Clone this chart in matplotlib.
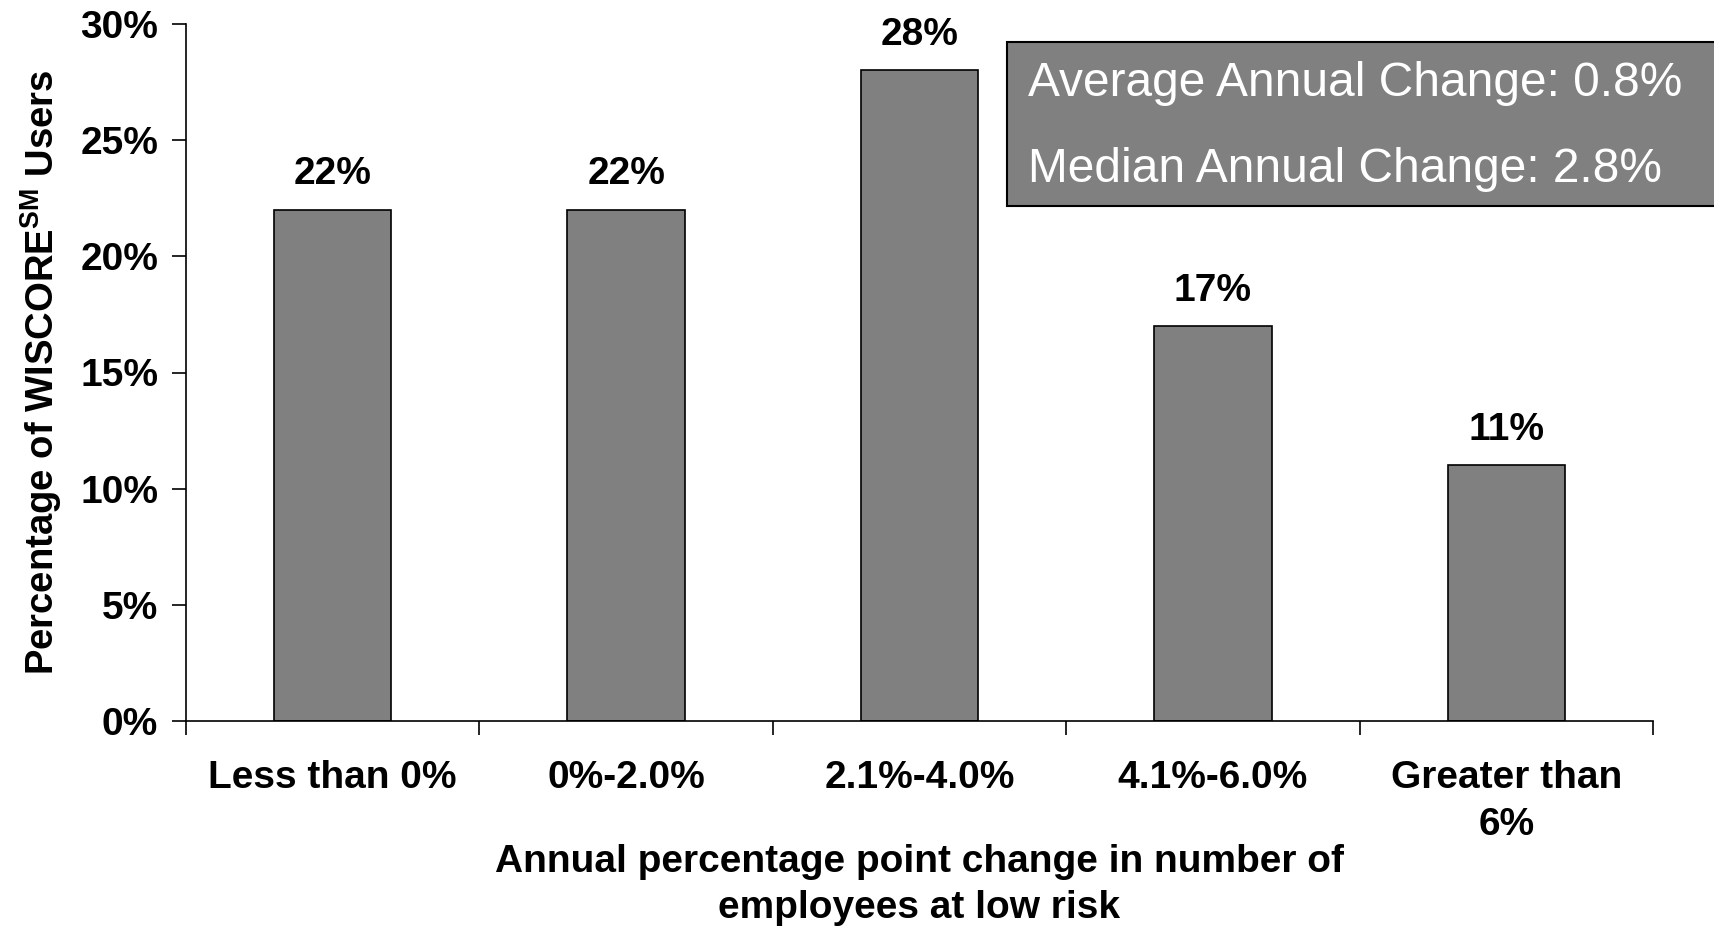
import matplotlib
matplotlib.use('Agg')
import matplotlib.pyplot as plt
import numpy as np

plt.rcParams.update({
    'font.family': ['Liberation Sans', 'DejaVu Sans'],
    'font.size': 28,
    'mathtext.fontset': 'custom',
    'mathtext.rm': 'Liberation Sans:bold',
    'mathtext.bf': 'Liberation Sans:bold',
})

categories = ['Less than 0%', '0%-2.0%', '2.1%-4.0%', '4.1%-6.0%', 'Greater than\n6%']
values = [22, 22, 28, 17, 11]
y_ticks = [0, 5, 10, 15, 20, 25, 30]
info_lines = ['Average Annual Change: 0.8%', 'Median Annual Change: 2.8%']

fig = plt.figure(figsize=(17.15, 9.27), dpi=100)
ax = fig.add_axes([186 / 1715, 1 - 721 / 927, (1653 - 186) / 1715, (721 - 24) / 927])

x = np.arange(len(categories))
ax.bar(x, values, width=0.40, color='#808080', edgecolor='black', linewidth=1.2)

for xi, v in zip(x, values):
    ax.text(xi, v + 0.75, f'{v}%', ha='center', va='bottom', fontsize=28, fontweight='bold')

ax.set_xlim(-0.5, len(categories) - 0.5)
ax.set_ylim(0, 30)
ax.set_yticks(y_ticks)
ax.set_yticklabels([f'{t}%' for t in y_ticks], fontsize=28, fontweight='bold')
ax.tick_params(axis='y', direction='out', length=10, width=1.2, pad=10)

# category labels centred, ticks at the boundaries
ax.set_xticks(x)
ax.set_xticklabels(categories, fontsize=28, fontweight='bold', linespacing=1.4)
ax.tick_params(axis='x', which='major', length=0, pad=28)
ax.set_xticks(np.arange(len(categories) + 1) - 0.5, minor=True)
ax.tick_params(axis='x', which='minor', direction='out', length=10, width=1.2)

for side in ['top', 'right']:
    ax.spines[side].set_visible(False)
ax.spines['left'].set_linewidth(1.2)
ax.spines['bottom'].set_linewidth(1.2)

ax.set_ylabel(r'Percentage of WISCORE$^{\mathbf{SM}}$ Users', fontsize=27.5, fontweight='bold', labelpad=12)
ax.set_xlabel('Annual percentage point change in number of\nemployees at low risk',
              fontsize=28, fontweight='bold', linespacing=1.38, labelpad=0.5)

# info box (runs past the right edge as in the original)
box = plt.Rectangle((1007 / 1715, 1 - 206 / 927), 0.6, (206 - 42) / 927,
                    transform=fig.transFigure, facecolor='#808080', edgecolor='black',
                    linewidth=1.5, clip_on=False)
fig.patches.append(box)
for i, line in enumerate(info_lines):
    fig.text(1028 / 1715, 1 - (84 + i * 85) / 927, line, ha='left', va='center',
             fontsize=34.5, color='white')

plt.savefig('out.png', dpi=100)
